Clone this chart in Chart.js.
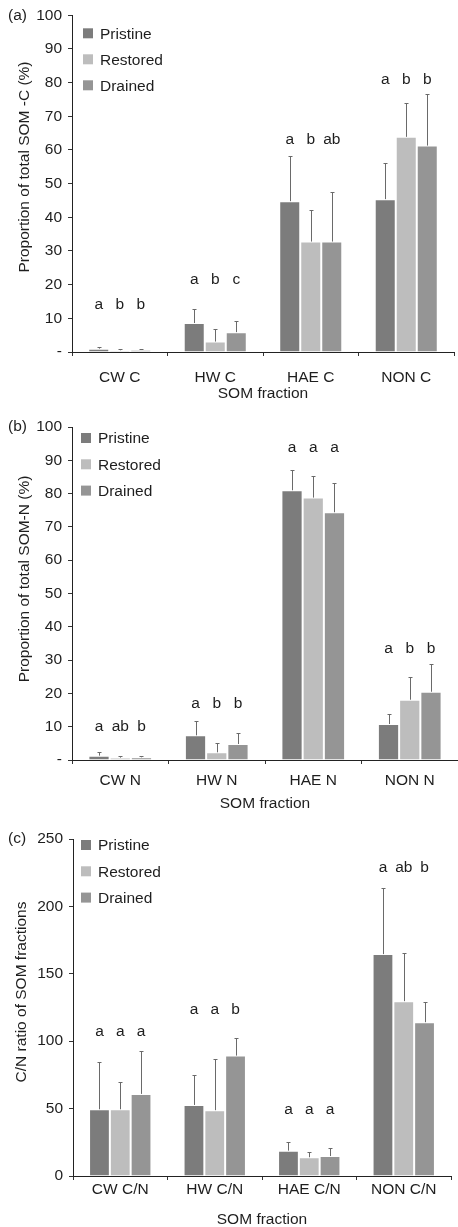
<!DOCTYPE html>
<html>
<head>
<meta charset="utf-8">
<title>SOM fractions</title>
<script src="https://cdn.jsdelivr.net/npm/chart.js@4.4.1/dist/chart.umd.min.js"></script>
<style>
  body { margin: 0; background: #fff; }
  .panel { position: absolute; left: 0; }
</style>
</head>
<body>
<canvas id="chartC" class="panel" width="458" height="404" style="top:0"></canvas>
<canvas id="chartN" class="panel" width="458" height="412" style="top:404px"></canvas>
<canvas id="chartCN" class="panel" width="458" height="411" style="top:816px"></canvas>

<script>
// sites and bar colours
var series = ["Pristine", "Restored", "Drained"];
var colours = ["#7c7c7c", "#bdbdbd", "#959595"];

// (a) share of total SOM-C (%), mean and +SD
var carbonLabels = ["CW C", "HW C", "HAE C", "NON C"];
var carbonPristine = [1.0, 8.6, 44.8, 45.4];
var carbonRestored = [0.5, 3.1, 32.8, 63.9];
var carbonDrained = [0.6, 5.9, 32.8, 61.3];
var carbonPristineSd = [0.5, 4.2, 13.3, 10.6];
var carbonRestoredSd = [0.3, 3.8, 9.4, 10.1];
var carbonDrainedSd = [0.2, 3.3, 14.7, 15.3];
var carbonLetters = [["a", "b", "b"], ["a", "b", "c"], ["a", "b", "ab"], ["a", "b", "b"]];
var carbonTicks = [0, 10, 20, 30, 40, 50, 60, 70, 80, 90, 100];

// (b) share of total SOM-N (%)
var nitrogenLabels = ["CW N", "HW N", "HAE N", "NON N"];
var nitrogenPristine = [1.3, 7.4, 81.0, 10.8];
var nitrogenRestored = [0.7, 2.3, 78.8, 18.1];
var nitrogenDrained = [0.8, 4.8, 74.4, 20.5];
var nitrogenPristineSd = [1.0, 4.4, 6.1, 3.0];
var nitrogenRestoredSd = [0.5, 2.8, 6.5, 6.8];
var nitrogenDrainedSd = [0.5, 3.3, 8.8, 8.3];
var nitrogenLetters = [["a", "ab", "b"], ["a", "b", "b"], ["a", "a", "a"], ["a", "b", "b"]];
var nitrogenTicks = [0, 10, 20, 30, 40, 50, 60, 70, 80, 90, 100];

// (c) C/N ratio of the fractions
var ratioLabels = ["CW C/N", "HW C/N", "HAE C/N", "NON C/N"];
var ratioPristine = [49.5, 52.7, 18.8, 164.6];
var ratioRestored = [49.5, 48.8, 13.9, 129.7];
var ratioDrained = [60.9, 89.3, 14.8, 114.1];
var ratioPristineSd = [35.4, 22.1, 6.7, 49.0];
var ratioRestoredSd = [20.5, 38.3, 4.1, 35.6];
var ratioDrainedSd = [31.7, 12.9, 6.2, 15.3];
var ratioLetters = [["a", "a", "a"], ["a", "a", "b"], ["a", "a", "a"], ["a", "ab", "b"]];
var ratioTicks = [0, 50, 100, 150, 200, 250];

var FONT = "'Liberation Sans', Arial, Helvetica, sans-serif";
var INK = "#1e1e1e";
Chart.defaults.font.family = FONT;
Chart.defaults.font.size = 15.5;
Chart.defaults.color = INK;

// error bars, significance letters, legend and rotated y title
var panelExtras = {
  id: "panelExtras",
  afterDatasetsDraw: function(chart, args, opts) {
    var ctx = chart.ctx;
    var y = chart.scales.y;
    var area = chart.chartArea;
    ctx.save();

    // one-sided (+SD) error bars
    ctx.strokeStyle = "#6a6a6a";
    ctx.lineWidth = 1;
    chart.data.datasets.forEach(function(ds, i) {
      chart.getDatasetMeta(i).data.forEach(function(bar, j) {
        var x = Math.round(bar.x) + 0.5;
        var top = Math.round(y.getPixelForValue(ds.data[j] + ds.sd[j])) + 0.5;
        ctx.beginPath();
        ctx.moveTo(x, bar.y);
        ctx.lineTo(x, top);
        ctx.moveTo(x - 2, top);
        ctx.lineTo(x + 2, top);
        ctx.stroke();
      });
    });

    ctx.fillStyle = INK;
    ctx.font = "15.5px " + FONT;
    ctx.textAlign = "center";
    ctx.textBaseline = "middle";
    opts.letters.forEach(function(group, j) {
      var ly = y.getPixelForValue(opts.letterLevel[j]);
      group.forEach(function(txt, i) {
        var bar = chart.getDatasetMeta(i).data[j];
        ctx.fillText(txt, bar.x, ly);
      });
    });

    // legend in the top-left corner of the plot
    ctx.textAlign = "left";
    chart.data.datasets.forEach(function(ds, i) {
      var ry = area.top + opts.legendTop + i * opts.legendStep;
      var bx = area.left + opts.legendLeft;
      ctx.fillStyle = ds.backgroundColor;
      ctx.fillRect(bx, ry - 5, 10, 10);
      ctx.fillStyle = INK;
      ctx.fillText(ds.label, bx + 17, ry + 1);
    });

    // axis title and panel tag
    ctx.save();
    ctx.translate(opts.titleX, opts.titleY);
    ctx.rotate(-Math.PI / 2);
    ctx.textAlign = "center";
    ctx.fillText(opts.title, 0, 0);
    ctx.restore();
    ctx.textAlign = "left";
    ctx.fillText(opts.tag, 8, area.top);
    ctx.restore();
  }
};

function buildPanel(id, labels, values, sds, ticks, zeroText, setup) {
  var datasets = series.map(function(name, i) {
    return {
      label: name,
      data: values[i],
      sd: sds[i],
      backgroundColor: colours[i],
      borderColor: "rgba(255,255,255,0.5)",
      borderWidth: 1,
      borderSkipped: "bottom",
      categoryPercentage: 0.66,
      barPercentage: 1.0
    };
  });
  return new Chart(document.getElementById(id), {
    type: "bar",
    data: { labels: labels, datasets: datasets },
    plugins: [panelExtras],
    options: {
      responsive: false,
      animation: false,
      layout: { padding: { top: setup.padTop, right: setup.padRight, left: 0, bottom: 0 } },
      plugins: {
        legend: { display: false },
        tooltip: { enabled: false },
        panelExtras: setup.extras
      },
      scales: {
        x: {
          grid: { drawOnChartArea: false, tickLength: 4, color: "#333", offset: true },
          border: { color: "#222", width: 1 },
          ticks: { padding: setup.xTickPad, color: INK, font: { size: 15.5 } },
          title: {
            display: true,
            text: "SOM fraction",
            color: INK,
            font: { size: 15.5, lineHeight: 1 },
            padding: { top: 0, bottom: setup.xTitlePad }
          },
          afterFit: function(scale) { scale.height = setup.xHeight; }
        },
        y: {
          min: ticks[0],
          max: ticks[ticks.length - 1],
          grid: { drawOnChartArea: false, tickLength: 4, color: "#333" },
          border: { color: "#222", width: 1 },
          afterBuildTicks: function(scale) {
            scale.ticks = ticks.map(function(v) { return { value: v }; });
          },
          ticks: {
            padding: 6,
            color: INK,
            font: { size: 15.5 },
            callback: function(v) { return v === 0 ? zeroText : v; }
          },
          afterFit: function(scale) { scale.width = setup.yWidth; }
        }
      }
    }
  });
}

buildPanel("chartC", carbonLabels,
  [carbonPristine, carbonRestored, carbonDrained],
  [carbonPristineSd, carbonRestoredSd, carbonDrainedSd],
  carbonTicks, "-",
  {
    padTop: 12, padRight: 4, yWidth: 72, xHeight: 52, xTickPad: 12, xTitlePad: 3,
    extras: {
      letters: carbonLetters, letterLevel: [14, 21.6, 63, 81],
      legendTop: 18, legendStep: 26, legendLeft: 11,
      title: "Proportion of total SOM -C (%)", titleX: 25, titleY: 167, tag: "(a)"
    }
  });

buildPanel("chartN", nitrogenLabels,
  [nitrogenPristine, nitrogenRestored, nitrogenDrained],
  [nitrogenPristineSd, nitrogenRestoredSd, nitrogenDrainedSd],
  nitrogenTicks, "-",
  {
    padTop: 23, padRight: 0, yWidth: 72, xHeight: 56, xTickPad: 7, xTitlePad: 5,
    extras: {
      letters: nitrogenLetters, letterLevel: [9.9, 16.8, 93.7, 33.3],
      legendTop: 11, legendStep: 26.3, legendLeft: 9,
      title: "Proportion of total SOM-N (%)", titleX: 25, titleY: 175, tag: "(b)"
    }
  });

buildPanel("chartCN", ratioLabels,
  [ratioPristine, ratioRestored, ratioDrained],
  [ratioPristineSd, ratioRestoredSd, ratioDrainedSd],
  ratioTicks, "0",
  {
    padTop: 23, padRight: 7, yWidth: 73, xHeight: 51, xTickPad: 0, xTitlePad: 0,
    extras: {
      letters: ratioLetters, letterLevel: [107, 123.7, 49.5, 229],
      legendTop: 6, legendStep: 26.3, legendLeft: 8,
      title: "C/N ratio of SOM fractions", titleX: 22, titleY: 176, tag: "(c)"
    }
  });
</script>
</body>
</html>
